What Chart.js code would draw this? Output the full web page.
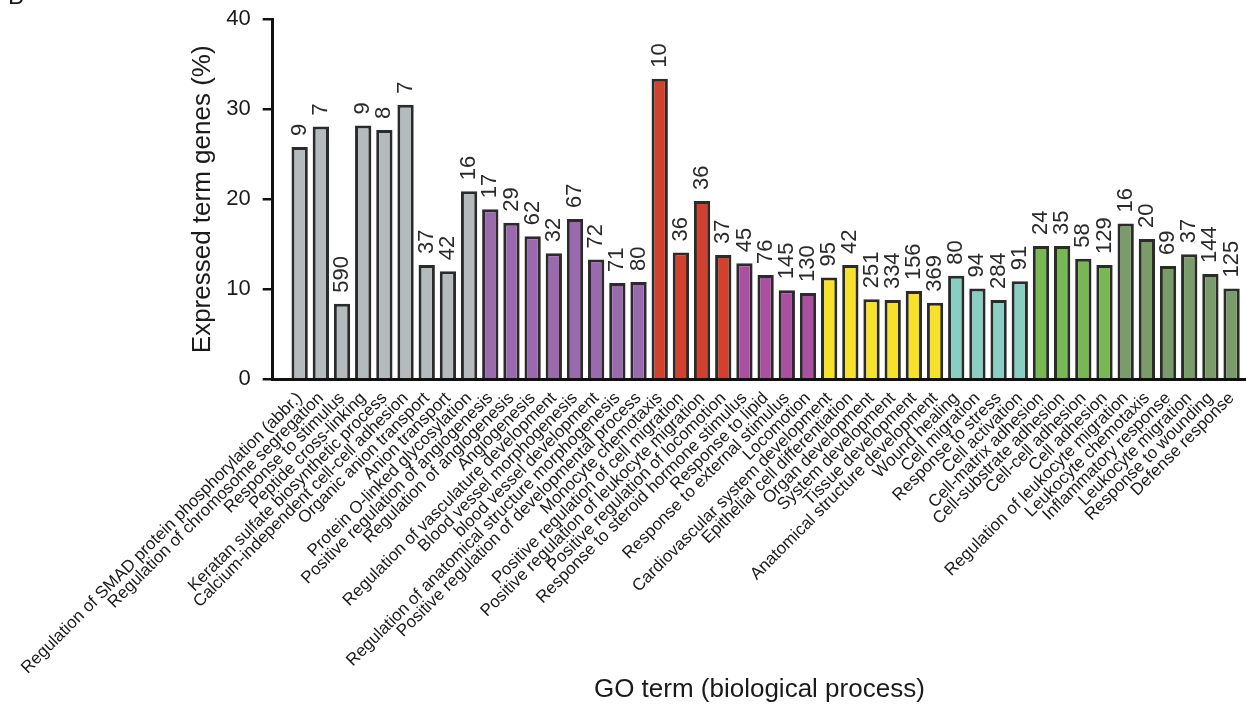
<!DOCTYPE html>
<html>
<head>
<meta charset="utf-8">
<script src="https://cdn.jsdelivr.net/npm/chart.js@4.4.1/dist/chart.umd.min.js"></script>
<style>
  html, body { margin: 0; padding: 0; background: #ffffff; overflow: hidden; }
  canvas { display: block; }
</style>
</head>
<body>
<canvas id="goChart" width="1246" height="705"></canvas>
<script>
// GO terms (biological process), in plotted order
const categories = [
  'Regulation of SMAD protein phosphorylation (abbr.)',
  'Regulation of chromosome segregation',
  'Response to stimulus',
  'Peptide cross-linking',
  'Keratan sulfate biosynthetic process',
  'Calcium-independent cell-cell adhesion',
  'Organic anion transport',
  'Anion transport',
  'Protein O-linked glycosylation',
  'Positive regulation of angiogenesis',
  'Regulation of angiogenesis',
  'Angiogenesis',
  'Regulation of vasculature development',
  'Blood vessel morphogenesis',
  'blood vessel development',
  'Regulation of anatomical structure morphogenesis',
  'Positive regulation of developmental process',
  'Monocyte chemotaxis',
  'Positive regulation of cell migration',
  'Positive regulation of leukocyte migration',
  'Positive regulation of locomotion',
  'Response to steroid hormone stimulus',
  'Response to lipid',
  'Response to external stimulus',
  'Locomotion',
  'Cardiovascular system development',
  'Epithelial cell differentiation',
  'Organ development',
  'System development',
  'Tissue development',
  'Anatomical structure development',
  'Wound healing',
  'Cell migration',
  'Response to stress',
  'Cell activation',
  'Cell-matrix adhesion',
  'Cell-substrate adhesion',
  'Cell-cell adhesion',
  'Cell adhesion',
  'Regulation of leukocyte migration',
  'Leukocyte chemotaxis',
  'Inflammatory response',
  'Leukocyte migration',
  'Response to wounding',
  'Defense response'
];

// Expressed term genes (%)
const percentages = [
  25.8, 28.1, 8.4, 28.2, 27.7, 30.5, 12.7, 12.0, 20.9,
  18.9, 17.4, 15.9, 14.0, 17.8, 13.3, 10.7, 10.8,
  33.4, 14.1, 19.8, 13.8,
  12.9, 11.6, 9.9, 9.6,
  11.3, 12.7, 8.9, 8.8, 9.8, 8.5,
  11.5, 10.1, 8.8, 10.9,
  14.8, 14.8, 13.4, 12.7,
  17.3, 15.6, 12.6, 13.9, 11.7, 10.1
];

// Number of genes in each term (printed above the bars)
const geneCounts = [
  9, 7, 590, 9, 8, 7, 37, 42, 16,
  17, 29, 62, 32, 67, 72, 71, 80,
  10, 36, 36, 37,
  45, 76, 145, 130,
  95, 42, 251, 334, 156, 369,
  80, 94, 284, 91,
  24, 35, 58, 129,
  16, 20, 69, 37, 144, 125
];

// Cluster each term belongs to
const clusters = [
  'other', 'other', 'other', 'other', 'other', 'other', 'other', 'other', 'other',
  'vascular', 'vascular', 'vascular', 'vascular', 'vascular', 'vascular', 'vascular', 'vascular',
  'chemotaxis', 'chemotaxis', 'chemotaxis', 'chemotaxis',
  'stimulus', 'stimulus', 'stimulus', 'stimulus',
  'development', 'development', 'development', 'development', 'development', 'development',
  'healing', 'healing', 'healing', 'healing',
  'adhesion', 'adhesion', 'adhesion', 'adhesion',
  'leukocyte', 'leukocyte', 'leukocyte', 'leukocyte', 'leukocyte', 'leukocyte'
];

const yTickValues = [0, 10, 20, 30, 40];

const clusterColors = {
  other: '#b5babc',
  vascular: '#9b69ad',
  chemotaxis: '#d1412e',
  stimulus: '#ab4fa0',
  development: '#f6e22b',
  healing: '#88cfc1',
  adhesion: '#77b853',
  leukocyte: '#7a9c69'
};

const FONT = '"Liberation Sans", Arial, Helvetica, sans-serif';
const INK = '#1a1a1a';

// gene counts written vertically above each bar
const countLabels = {
  id: 'countLabels',
  afterDatasetsDraw(chart) {
    const ctx = chart.ctx;
    const meta = chart.getDatasetMeta(0);
    ctx.save();
    ctx.font = '22px ' + FONT;
    ctx.fillStyle = '#2a2a2a';
    ctx.textAlign = 'left';
    ctx.textBaseline = 'middle';
    meta.data.forEach((bar, i) => {
      ctx.save();
      ctx.translate(bar.x, bar.y - 11);
      ctx.rotate(-Math.PI / 2);
      ctx.fillText(String(geneCounts[i]), 0, 0);
      ctx.restore();
    });
    ctx.restore();
  }
};

// panel letter in the top-left corner
const panelLetter = {
  id: 'panelLetter',
  afterDraw(chart) {
    const ctx = chart.ctx;
    ctx.save();
    ctx.font = '24px ' + FONT;
    ctx.fillStyle = INK;
    ctx.textAlign = 'left';
    ctx.textBaseline = 'alphabetic';
    ctx.fillText('B', 8, 4);
    ctx.restore();
  }
};

new Chart(document.getElementById('goChart'), {
  type: 'bar',
  data: {
    datasets: [{
      data: percentages.map((v, i) => ({ x: i, y: v })),
      backgroundColor: clusters.map(c => clusterColors[c]),
      borderColor: '#2b2b2b',
      borderWidth: 3,
      borderSkipped: 'start',
      barPercentage: 0.77,
      categoryPercentage: 1
    }]
  },
  options: {
    responsive: false,
    animation: false,
    devicePixelRatio: 1,
    layout: { autoPadding: false, padding: { top: 19.3, left: 0, right: 0, bottom: 0 } },
    plugins: {
      legend: { display: false },
      tooltip: { enabled: false }
    },
    scales: {
      x: {
        type: 'linear',
        min: -0.762,
        max: 44.17,
        grid: { display: false, drawTicks: false },
        border: { display: true, color: '#111111', width: 3 },
        ticks: {
          stepSize: 1,
          autoSkip: false,
          includeBounds: false,
          maxRotation: 45,
          minRotation: 45,
          padding: 9,
          color: INK,
          font: { family: FONT, size: 17 },
          callback: (v) => (Number.isInteger(v) && categories[v] !== undefined) ? categories[v] : ''
        },
        title: {
          display: true,
          text: 'GO term (biological process)',
          color: INK,
          font: { family: FONT, size: 26 },
          padding: { top: 0, bottom: 0 }
        },
        afterFit(scale) {
          scale.height = 325.7;
          scale.paddingLeft = 0;
          scale.paddingRight = 0;
          scale.paddingTop = 0;
          scale.paddingBottom = 0;
        }
      },
      y: {
        min: 0,
        max: 40,
        grid: {
          display: true,
          drawOnChartArea: false,
          drawTicks: true,
          tickLength: 10,
          lineWidth: 2.5,
          color: '#111111'
        },
        border: { display: true, color: '#111111', width: 3 },
        afterBuildTicks(scale) {
          scale.ticks = yTickValues.map(v => ({ value: v }));
        },
        ticks: {
          padding: 12,
          color: INK,
          font: { family: FONT, size: 22 }
        },
        title: {
          display: true,
          text: 'Expressed term genes (%)',
          color: INK,
          font: { family: FONT, size: 26 },
          padding: { top: 187, bottom: 0 }
        },
        afterFit(scale) {
          scale.width = 272.7;
          scale.paddingTop = 0;
          scale.paddingBottom = 0;
        }
      }
    }
  },
  plugins: [countLabels, panelLetter]
});
</script>
</body>
</html>
